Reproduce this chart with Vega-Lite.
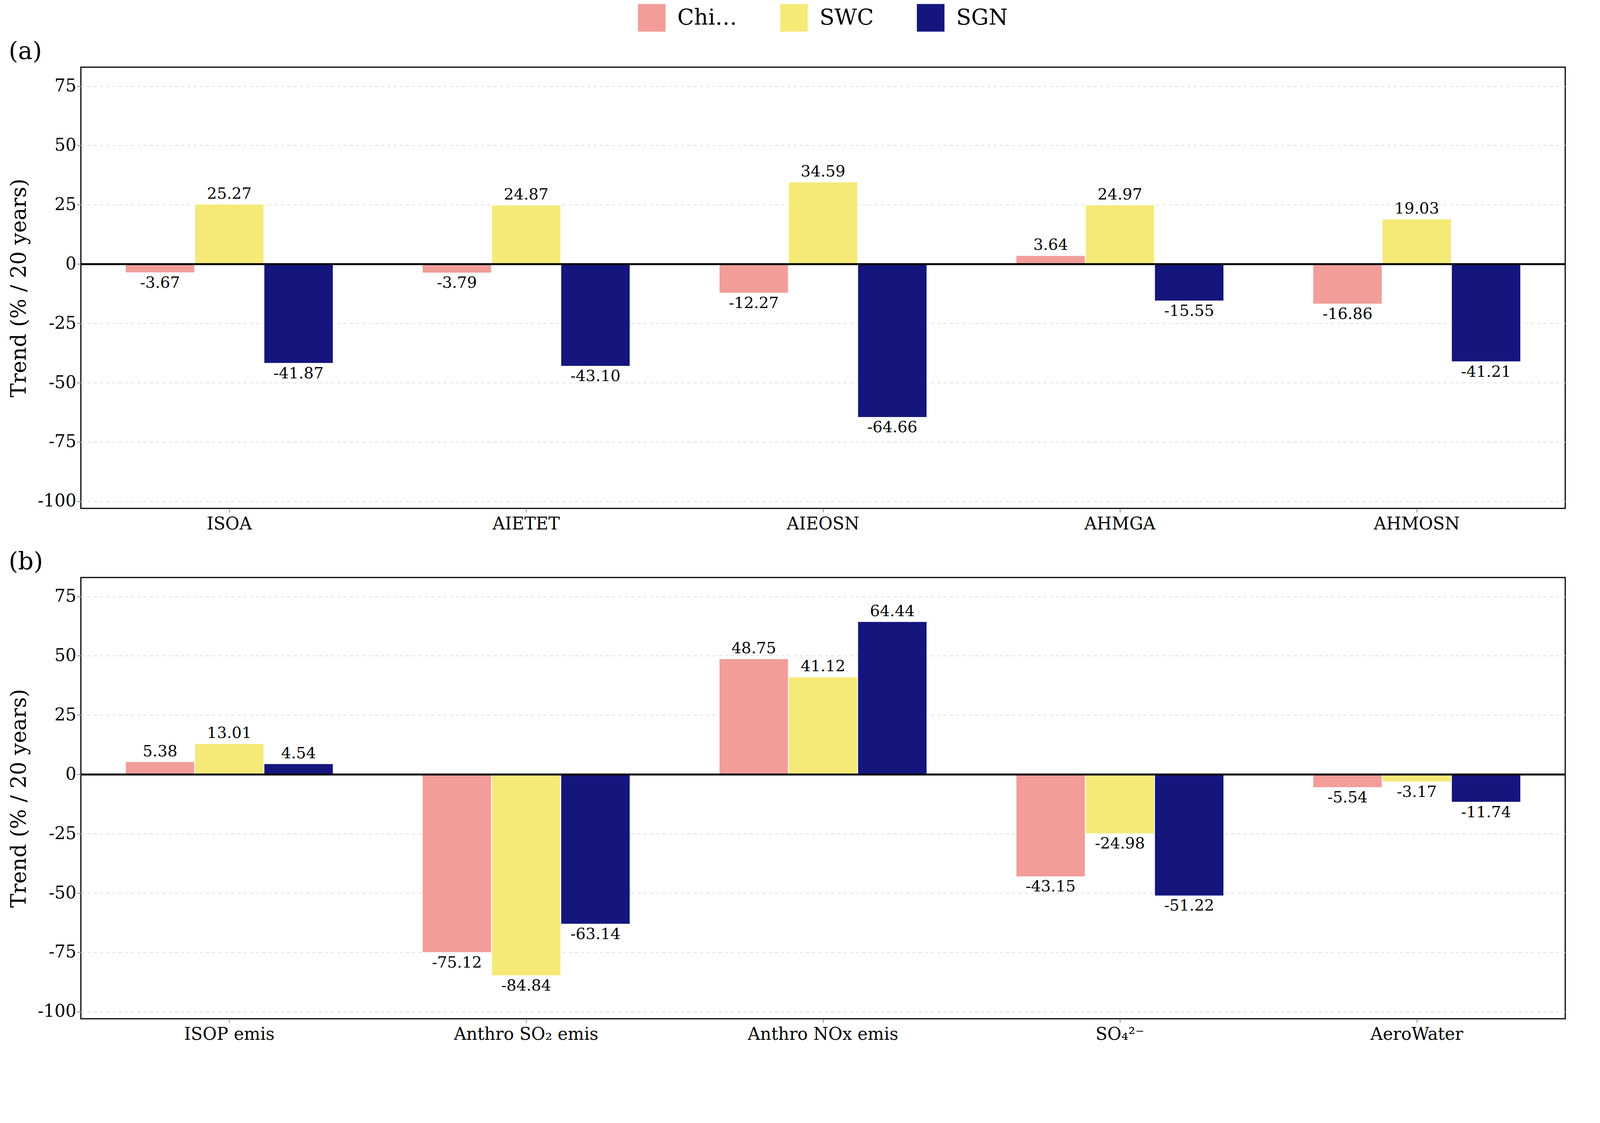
{
  "$schema": "https://vega.github.io/schema/vega-lite/v6.json",
  "padding": {"left": 20, "top": 10, "right": 30, "bottom": 10},
  "background": "white",
  "datasets": {
    "a": [
      {"cat": "ISOA", "region": "China", "value": -3.67},
      {"cat": "ISOA", "region": "SWC", "value": 25.27},
      {"cat": "ISOA", "region": "SGN", "value": -41.87},
      {"cat": "AIETET", "region": "China", "value": -3.79},
      {"cat": "AIETET", "region": "SWC", "value": 24.87},
      {"cat": "AIETET", "region": "SGN", "value": -43.10},
      {"cat": "AIEOSN", "region": "China", "value": -12.27},
      {"cat": "AIEOSN", "region": "SWC", "value": 34.59},
      {"cat": "AIEOSN", "region": "SGN", "value": -64.66},
      {"cat": "AHMGA", "region": "China", "value": 3.64},
      {"cat": "AHMGA", "region": "SWC", "value": 24.97},
      {"cat": "AHMGA", "region": "SGN", "value": -15.55},
      {"cat": "AHMOSN", "region": "China", "value": -16.86},
      {"cat": "AHMOSN", "region": "SWC", "value": 19.03},
      {"cat": "AHMOSN", "region": "SGN", "value": -41.21}
    ],
    "b": [
      {"cat": "ISOP emis", "region": "China", "value": 5.38},
      {"cat": "ISOP emis", "region": "SWC", "value": 13.01},
      {"cat": "ISOP emis", "region": "SGN", "value": 4.54},
      {"cat": "Anthro SO₂ emis", "region": "China", "value": -75.12},
      {"cat": "Anthro SO₂ emis", "region": "SWC", "value": -84.84},
      {"cat": "Anthro SO₂ emis", "region": "SGN", "value": -63.14},
      {"cat": "Anthro NOx emis", "region": "China", "value": 48.75},
      {"cat": "Anthro NOx emis", "region": "SWC", "value": 41.12},
      {"cat": "Anthro NOx emis", "region": "SGN", "value": 64.44},
      {"cat": "SO₄²⁻", "region": "China", "value": -43.15},
      {"cat": "SO₄²⁻", "region": "SWC", "value": -24.98},
      {"cat": "SO₄²⁻", "region": "SGN", "value": -51.22},
      {"cat": "AeroWater", "region": "China", "value": -5.54},
      {"cat": "AeroWater", "region": "SWC", "value": -3.17},
      {"cat": "AeroWater", "region": "SGN", "value": -11.74}
    ]
  },
  "config": {
    "font": "DejaVu Serif",
    "locale": {"number": {"decimal": ".", "thousands": ",", "grouping": [3], "currency": ["$", ""], "minus": "-"}},
    "view": {"stroke": "black", "strokeWidth": 3},
    "axis": {"labelFont": "DejaVu Serif", "titleFont": "DejaVu Serif", "labelFontSize": 44, "titleFontSize": 54, "titleFontWeight": "normal", "tickSize": 10, "tickWidth": 2, "labelColor": "black", "titleColor": "black", "domain": false, "labelLimit": 0},
    "legend": {"labelFont": "DejaVu Serif", "labelFontSize": 56, "symbolType": "square", "symbolSize": 5000, "symbolStrokeWidth": 0, "columnPadding": 110, "labelOffset": 30, "layout": {"top": {"anchor": "middle"}}},
    "title": {"font": "DejaVu Serif", "fontSize": 62, "fontWeight": "normal", "anchor": "start", "offset": 8}
  },
  "vconcat": [
    {
      "title": "(a)",
      "width": 3800, "height": 1130,
      "data": {"name": "a"},
      "encoding": {
        "x": {"field": "cat", "type": "nominal", "sort": null, "title": null, "scale": {"paddingInner": 0.3, "paddingOuter": 0.15}, "axis": {"labelAngle": 0, "grid": false, "labelPadding": 8}},
        "xOffset": {"field": "region", "sort": ["China", "SWC", "SGN"]},
        "y": {"field": "value", "type": "quantitative", "title": "Trend (% / 20 years)", "scale": {"domain": [-103, 83], "nice": false}, "axis": {"values": [-100, -75, -50, -25, 0, 25, 50, 75], "gridDash": [8, 8], "gridColor": "#dddddd", "gridWidth": 2, "titlePadding": 20}}
      },
      "layer": [
        {"mark": {"type": "bar", "stroke": "white", "strokeWidth": 2},
         "encoding": {"color": {"field": "region", "type": "nominal", "title": null, "scale": {"domain": ["China", "SWC", "SGN"], "range": ["#F29D99", "#F5EA78", "#15157E"]}, "legend": {"orient": "top", "direction": "horizontal"}}}},
        {"mark": {"type": "rule", "color": "black", "strokeWidth": 4}, "encoding": {"y": {"datum": 0}, "x": {}, "xOffset": {}}},
        {"transform": [{"filter": "datum.value >= 0"}], "mark": {"type": "text", "baseline": "bottom", "dy": -6, "fontSize": 40}, "encoding": {"text": {"field": "value", "format": ".2f"}}},
        {"transform": [{"filter": "datum.value < 0"}], "mark": {"type": "text", "baseline": "top", "dy": 6, "fontSize": 40}, "encoding": {"text": {"field": "value", "format": ".2f"}}}
      ]
    },
    {
      "title": "(b)",
      "width": 3800, "height": 1130,
      "data": {"name": "b"},
      "encoding": {
        "x": {"field": "cat", "type": "nominal", "sort": null, "title": null, "scale": {"paddingInner": 0.3, "paddingOuter": 0.15}, "axis": {"labelAngle": 0, "grid": false, "labelPadding": 8}},
        "xOffset": {"field": "region", "sort": ["China", "SWC", "SGN"]},
        "y": {"field": "value", "type": "quantitative", "title": "Trend (% / 20 years)", "scale": {"domain": [-103, 83], "nice": false}, "axis": {"values": [-100, -75, -50, -25, 0, 25, 50, 75], "gridDash": [8, 8], "gridColor": "#dddddd", "gridWidth": 2, "titlePadding": 20}}
      },
      "layer": [
        {"mark": {"type": "bar", "stroke": "white", "strokeWidth": 2},
         "encoding": {"color": {"field": "region", "type": "nominal", "title": null, "scale": {"domain": ["China", "SWC", "SGN"], "range": ["#F29D99", "#F5EA78", "#15157E"]}, "legend": {"orient": "top", "direction": "horizontal"}}}},
        {"mark": {"type": "rule", "color": "black", "strokeWidth": 4}, "encoding": {"y": {"datum": 0}, "x": {}, "xOffset": {}}},
        {"transform": [{"filter": "datum.value >= 0"}], "mark": {"type": "text", "baseline": "bottom", "dy": -6, "fontSize": 40}, "encoding": {"text": {"field": "value", "format": ".2f"}}},
        {"transform": [{"filter": "datum.value < 0"}], "mark": {"type": "text", "baseline": "top", "dy": 6, "fontSize": 40}, "encoding": {"text": {"field": "value", "format": ".2f"}}}
      ]
    }
  ],
  "spacing": 40,
  "resolve": {"legend": {"color": "shared"}}
}
